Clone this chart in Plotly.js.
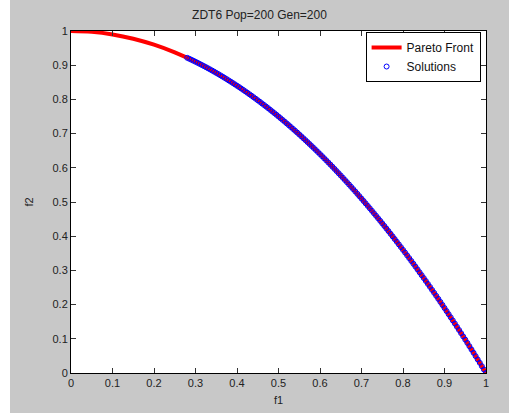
<!DOCTYPE html>
<html><head><meta charset="utf-8">
<script src="https://cdn.plot.ly/plotly-3.0.1.min.js"></script>
<style>
html,body{margin:0;padding:0;background:#fff;}
#chart{position:absolute;left:10px;top:0;width:499px;height:413px;}
</style></head>
<body><div id="chart"></div>
<script>
// Pareto front (red line)
const frontF1 = [0,0.05,0.1,0.15,0.2,0.25,0.3,0.35,0.4,0.45,0.5,0.55,0.6,0.65,0.7,0.75,0.8,0.85,0.9,0.95,1];
const frontF2 = [1,0.9975,0.99,0.9775,0.96,0.9375,0.91,0.8775,0.84,0.7975,0.75,0.6975,0.64,0.5775,0.51,0.4375,0.36,0.2775,0.19,0.0975,0];

// Solutions (blue circles)
const solF1 = [0.280,0.285,0.290,0.295,0.300,0.305,0.310,0.315,0.320,0.325,0.330,0.335,0.340,0.345,0.350,0.355,0.360,0.365,0.370,0.375,0.380,0.385,0.390,0.395,0.400,0.405,0.410,0.415,0.420,0.425,0.430,0.435,0.440,0.445,0.450,0.455,0.460,0.465,0.470,0.475,0.480,0.485,0.490,0.495,0.500,0.505,0.510,0.515,0.520,0.525,0.530,0.535,0.540,0.545,0.550,0.555,0.560,0.565,0.570,0.575,0.580,0.585,0.590,0.595,0.600,0.605,0.610,0.615,0.620,0.625,0.630,0.635,0.640,0.645,0.650,0.655,0.660,0.665,0.670,0.675,0.680,0.685,0.690,0.695,0.700,0.705,0.710,0.715,0.720,0.725,0.730,0.735,0.740,0.745,0.750,0.755,0.760,0.765,0.770,0.775,0.780,0.785,0.790,0.795,0.800,0.805,0.810,0.815,0.820,0.825,0.830,0.835,0.840,0.845,0.850,0.855,0.860,0.865,0.870,0.875,0.880,0.885,0.890,0.895,0.900,0.905,0.910,0.915,0.920,0.925,0.930,0.935,0.940,0.945,0.950,0.955,0.960,0.965,0.970,0.975,0.980,0.985,0.990,0.995,1.000];
const solF2 = [0.9216,0.9188,0.9159,0.9130,0.9100,0.9070,0.9039,0.9008,0.8976,0.8944,0.8911,0.8878,0.8844,0.8810,0.8775,0.8740,0.8704,0.8668,0.8631,0.8594,0.8556,0.8518,0.8479,0.8440,0.8400,0.8360,0.8319,0.8278,0.8236,0.8194,0.8151,0.8108,0.8064,0.8020,0.7975,0.7930,0.7884,0.7838,0.7791,0.7744,0.7696,0.7648,0.7599,0.7550,0.7500,0.7450,0.7399,0.7348,0.7296,0.7244,0.7191,0.7138,0.7084,0.7030,0.6975,0.6920,0.6864,0.6808,0.6751,0.6694,0.6636,0.6578,0.6519,0.6460,0.6400,0.6340,0.6279,0.6218,0.6156,0.6094,0.6031,0.5968,0.5904,0.5840,0.5775,0.5710,0.5644,0.5578,0.5511,0.5444,0.5376,0.5308,0.5239,0.5170,0.5100,0.5030,0.4959,0.4888,0.4816,0.4744,0.4671,0.4598,0.4524,0.4450,0.4375,0.4300,0.4224,0.4148,0.4071,0.3994,0.3916,0.3838,0.3759,0.3680,0.3600,0.3520,0.3439,0.3358,0.3276,0.3194,0.3111,0.3028,0.2944,0.2860,0.2775,0.2690,0.2604,0.2518,0.2431,0.2344,0.2256,0.2168,0.2079,0.1990,0.1900,0.1810,0.1719,0.1628,0.1536,0.1444,0.1351,0.1258,0.1164,0.1070,0.0975,0.0880,0.0784,0.0688,0.0591,0.0494,0.0396,0.0298,0.0199,0.0100,0.0000];

const tickVals = [0,0.1,0.2,0.3,0.4,0.5,0.6,0.7,0.8,0.9,1];
const tickText = ['0','0.1','0.2','0.3','0.4','0.5','0.6','0.7','0.8','0.9','1'];

const font = {family:'Liberation Sans, Arial, sans-serif', size:11, color:'#222'};

const traces = [
  {x:frontF1, y:frontF2, type:'scatter', mode:'lines', name:'Pareto Front',
   line:{color:'#ff0000', width:4, shape:'spline'}},
  {x:solF1, y:solF2, type:'scatter', mode:'markers', name:'Solutions',
   marker:{symbol:'circle-open', color:'#0000ff', size:5, line:{width:1, color:'#0000ff'}}}
];

const axisCommon = {
  range:[0,1], tickvals:tickVals, ticktext:tickText, ticks:'inside', ticklen:5,
  tickcolor:'#333', tickwidth:1, showline:true, linecolor:'#000', linewidth:1,
  mirror:'ticks', showgrid:false, zeroline:false, tickfont:font, fixedrange:true
};

const layout = {
  width:499, height:413,
  margin:{l:61, r:23, t:31, b:40},
  paper_bgcolor:'#c8c8c8', plot_bgcolor:'#ffffff',
  font:font,
  title:{text:'ZDT6 Pop=200 Gen=200', font:{family:'Liberation Sans, Arial, sans-serif', size:12, color:'#222'}, x:0.5, xanchor:'center', y:0.965, yanchor:'middle'},
  xaxis:Object.assign({}, axisCommon, {title:{text:'f1', font:font, standoff:8}}),
  yaxis:Object.assign({}, axisCommon, {title:{text:'f2', font:font, standoff:16}}),
  showlegend:true,
  legend:{x:0.987, xanchor:'right', y:0.997, yanchor:'top', bgcolor:'#ffffff',
    bordercolor:'#000', borderwidth:1, font:{family:'Liberation Sans, Arial, sans-serif', size:12, color:'#111'},
    tracegroupgap:0, itemwidth:30}
};

Plotly.newPlot('chart', traces, layout, {displayModeBar:false, staticPlot:true});
</script></body></html>
